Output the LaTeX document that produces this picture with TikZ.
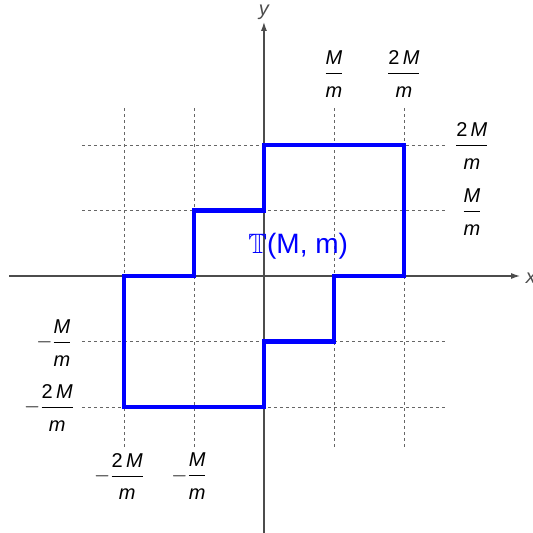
\documentclass[tikz,border=0pt]{standalone}
\usepackage{amsmath}
\usepackage{amssymb}
\usepackage{fontspec}
\setmainfont{Liberation Sans}
\usetikzlibrary{arrows.meta}
\newcommand{\Mm}[1]{\dfrac{\text{#1\textit{M}}\rule[-4pt]{0pt}{4pt}}{\rule{0pt}{21pt}\text{\textit{m}}}}

\begin{document}
\begin{tikzpicture}[x=70pt,y=65.5pt,
    every node/.style={font=\fontsize{20}{24}\selectfont},
    gridline/.style={dashed,black!60,line width=0.8pt},
    axisline/.style={black!70,line width=1.3pt,-{Latex[length=9pt,width=6pt]}},
    region/.style={blue,line width=4.2pt,line join=miter}]
    \useasboundingbox (-3.771,-3.924) rectangle (3.843,4.214);

    % grid
    \foreach \i in {-2,-1,1,2} {
        \draw[gridline] (\i,-2.61)--(\i,2.61);
        \draw[gridline] (-2.6,\i)--(2.6,\i);
    }

    % axes
    \coordinate (xstart) at (-3.64,0);
    \coordinate (xend) at (3.66,0);
    \coordinate (ystart) at (0,-3.95);
    \coordinate (yend) at (0,3.88);
    \draw[axisline] (xstart)--(xend);
    \draw[axisline] (ystart)--(yend);
    \node[black!70,font=\fontsize{20}{24}\selectfont\itshape,inner sep=0pt] (xlab) at (3.74,-0.03) [anchor=west] {x};
    \node[black!70,font=\fontsize{20}{24}\selectfont\itshape] (ylab) at (0,4.02) {y};

    % tick labels
    \node (top1) at (1,3.08) {$\Mm{}$};
    \node (top2) at (2,3.08) {$\Mm{2\,}$};
    \node (right2) at (2.97,1.98) {$\Mm{2\,}$};
    \node (right1) at (2.97,0.98) {$\Mm{}$};
    \node (left1) at (-3.0,-1.02) {$-\Mm{}$};
    \node (left2) at (-3.07,-2.02) {$-\Mm{2\,}$};
    \node (bot2) at (-2.07,-3.06) {$-\Mm{2\,}$};
    \node (bot1) at (-1.07,-3.06) {$-\Mm{}$};

    % the region
    \draw[region] (0,2)--(2,2)--(2,0)--(1,0)--(1,-1)--(0,-1)--(0,-2)
        --(-2,-2)--(-2,0)--(-1,0)--(-1,1)--(0,1)--cycle;
    \node[blue,font=\fontsize{28}{32}\selectfont] (Tname) at (0.49,0.45) {$\mathbb{T}$(M, m)};
\end{tikzpicture}
\end{document}
